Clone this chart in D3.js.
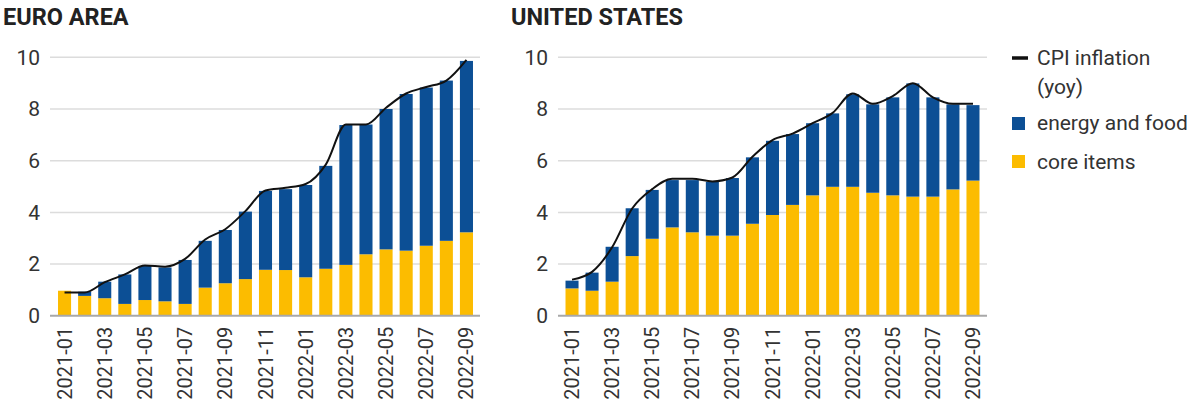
<!DOCTYPE html>
<html>
<head>
<meta charset="utf-8">
<script src="https://cdn.jsdelivr.net/npm/d3@7"></script>
<style>
  body { margin: 0; background: #fff; }
  svg { font-family: Roboto, "Noto Sans", sans-serif; }
</style>
</head>
<body>
<script>
// months shown on both panels
var months = ["2021-01","2021-02","2021-03","2021-04","2021-05","2021-06","2021-07","2021-08","2021-09","2021-10","2021-11","2021-12",
              "2022-01","2022-02","2022-03","2022-04","2022-05","2022-06","2022-07","2022-08","2022-09"];
var yTicks = [0, 2, 4, 6, 8, 10];

// euro area contributions (pp) and headline
var euCore   = [0.97, 0.77, 0.68, 0.46, 0.61, 0.56, 0.46, 1.09, 1.26, 1.42, 1.78, 1.77, 1.49, 1.82, 1.97, 2.38, 2.57, 2.52, 2.71, 2.90, 3.23];
var euEnergy = [0.00, 0.16, 0.64, 1.14, 1.32, 1.31, 1.70, 1.81, 2.06, 2.61, 3.05, 3.13, 3.57, 3.98, 5.41, 5.02, 5.43, 6.06, 6.12, 6.20, 6.63];
var euCpi    = [0.9, 0.9, 1.3, 1.6, 1.95, 1.9, 2.2, 2.95, 3.35, 4.05, 4.85, 4.95, 5.1, 5.85, 7.4, 7.4, 8.05, 8.6, 8.85, 9.1, 9.9];

// united states
var usCore   = [1.06, 0.97, 1.32, 2.31, 2.98, 3.42, 3.23, 3.10, 3.10, 3.56, 3.90, 4.29, 4.66, 4.99, 4.99, 4.76, 4.66, 4.61, 4.61, 4.89, 5.23];
var usEnergy = [0.30, 0.70, 1.35, 1.85, 1.89, 1.83, 2.02, 2.08, 2.23, 2.57, 2.87, 2.74, 2.79, 2.84, 3.58, 3.42, 3.79, 4.38, 3.84, 3.29, 2.92];
var usCpi    = [1.4, 1.7, 2.65, 4.15, 4.9, 5.3, 5.3, 5.2, 5.35, 6.15, 6.8, 7.05, 7.45, 7.85, 8.6, 8.2, 8.5, 9.0, 8.45, 8.2, 8.2];

var legendLabels = ["CPI inflation", "(yoy)", "energy and food", "core items"];

var blue = "#0c4f95", yellow = "#fcbc00", textCol = "#333";

var svg = d3.select("body").append("svg")
    .attr("width", 1192)
    .attr("height", 407);

var y = d3.scaleLinear().domain([0, 10]).range([315.8, 57.3]);

function panel(title, titleX, gridX0, gridX1, barX0, barX1, core, energy, cpi) {
    var g = svg.append("g");

    var x = d3.scaleBand()
        .domain(months)
        .range([barX0, barX1])
        .paddingInner(0.35)
        .paddingOuter(0.175);

    g.append("text")
        .attr("x", titleX)
        .attr("y", 25)
        .attr("font-size", 23.5)
        .attr("font-weight", "bold")
        .attr("fill", "#222")
        .text(title);

    // gridlines
    g.selectAll(".grid")
        .data(yTicks.filter(function(d) { return d > 0; }))
        .enter().append("line")
        .attr("x1", gridX0).attr("x2", gridX1)
        .attr("y1", function(d) { return y(d); })
        .attr("y2", function(d) { return y(d); })
        .attr("stroke", "#dcdcdc")
        .attr("stroke-width", 1.5);

    // y axis labels
    var yAxis = d3.axisLeft(y).tickValues(yTicks).tickSize(0).tickPadding(0);
    var ya = g.append("g")
        .attr("transform", "translate(" + (gridX0 - 10) + ",0)")
        .call(yAxis);
    ya.select(".domain").remove();
    ya.selectAll("text")
        .attr("font-size", 21)
        .attr("font-family", "Roboto, sans-serif")
        .attr("fill", textCol);

    var stacked = months.map(function(m, i) {
        return {m: m, core: core[i], energy: energy[i]};
    });

    g.selectAll(".core")
        .data(stacked)
        .enter().append("rect")
        .attr("x", function(d) { return x(d.m); })
        .attr("width", x.bandwidth())
        .attr("y", function(d) { return y(d.core); })
        .attr("height", function(d) { return y(0) - y(d.core); })
        .attr("fill", yellow);

    g.selectAll(".energy")
        .data(stacked)
        .enter().append("rect")
        .attr("x", function(d) { return x(d.m); })
        .attr("width", x.bandwidth())
        .attr("y", function(d) { return y(d.core + d.energy); })
        .attr("height", function(d) { return y(d.core) - y(d.core + d.energy); })
        .attr("fill", blue);

    // baseline
    g.append("line")
        .attr("x1", gridX0).attr("x2", gridX1)
        .attr("y1", y(0)).attr("y2", y(0))
        .attr("stroke", "#a8a8a8")
        .attr("stroke-width", 2);

    var line = d3.line()
        .x(function(d, i) { return x(months[i]) + x.bandwidth() / 2; })
        .y(function(d) { return y(d); })
        .curve(d3.curveMonotoneX);

    g.append("path")
        .datum(cpi)
        .attr("d", line)
        .attr("fill", "none")
        .attr("stroke", "#111")
        .attr("stroke-width", 2);

    // x axis, every other month
    var xAxis = d3.axisBottom(x)
        .tickValues(months.filter(function(d, i) { return i % 2 == 0; }))
        .tickSize(0);
    var xa = g.append("g")
        .attr("transform", "translate(0," + y(0) + ")")
        .call(xAxis);
    xa.select(".domain").remove();
    xa.selectAll("text")
        .attr("font-size", 20)
        .attr("font-family", "Roboto, sans-serif")
        .attr("fill", textCol)
        .attr("transform", "rotate(-90)")
        .attr("text-anchor", "end")
        .attr("dx", "-11")
        .attr("dy", "0.35em")
        .attr("y", 0);
}

panel("EURO AREA", 3, 50, 480, 54.5, 476.5, euCore, euEnergy, euCpi);
panel("UNITED STATES", 511, 558, 987, 562, 983, usCore, usEnergy, usCpi);

// legend
var lg = svg.append("g").attr("font-size", 21).attr("fill", textCol);
lg.append("line")
    .attr("x1", 1012).attr("x2", 1028)
    .attr("y1", 58).attr("y2", 58)
    .attr("stroke", "#111").attr("stroke-width", 3.5);
lg.append("text").attr("x", 1037).attr("y", 65).text(legendLabels[0]);
lg.append("text").attr("x", 1037).attr("y", 94).text(legendLabels[1]);
lg.append("rect").attr("x", 1012).attr("y", 117).attr("width", 13).attr("height", 13).attr("fill", blue);
lg.append("text").attr("x", 1037).attr("y", 130).text(legendLabels[2]);
lg.append("rect").attr("x", 1012).attr("y", 155).attr("width", 13).attr("height", 13).attr("fill", yellow);
lg.append("text").attr("x", 1037).attr("y", 169).text(legendLabels[3]);
</script>
</body>
</html>
